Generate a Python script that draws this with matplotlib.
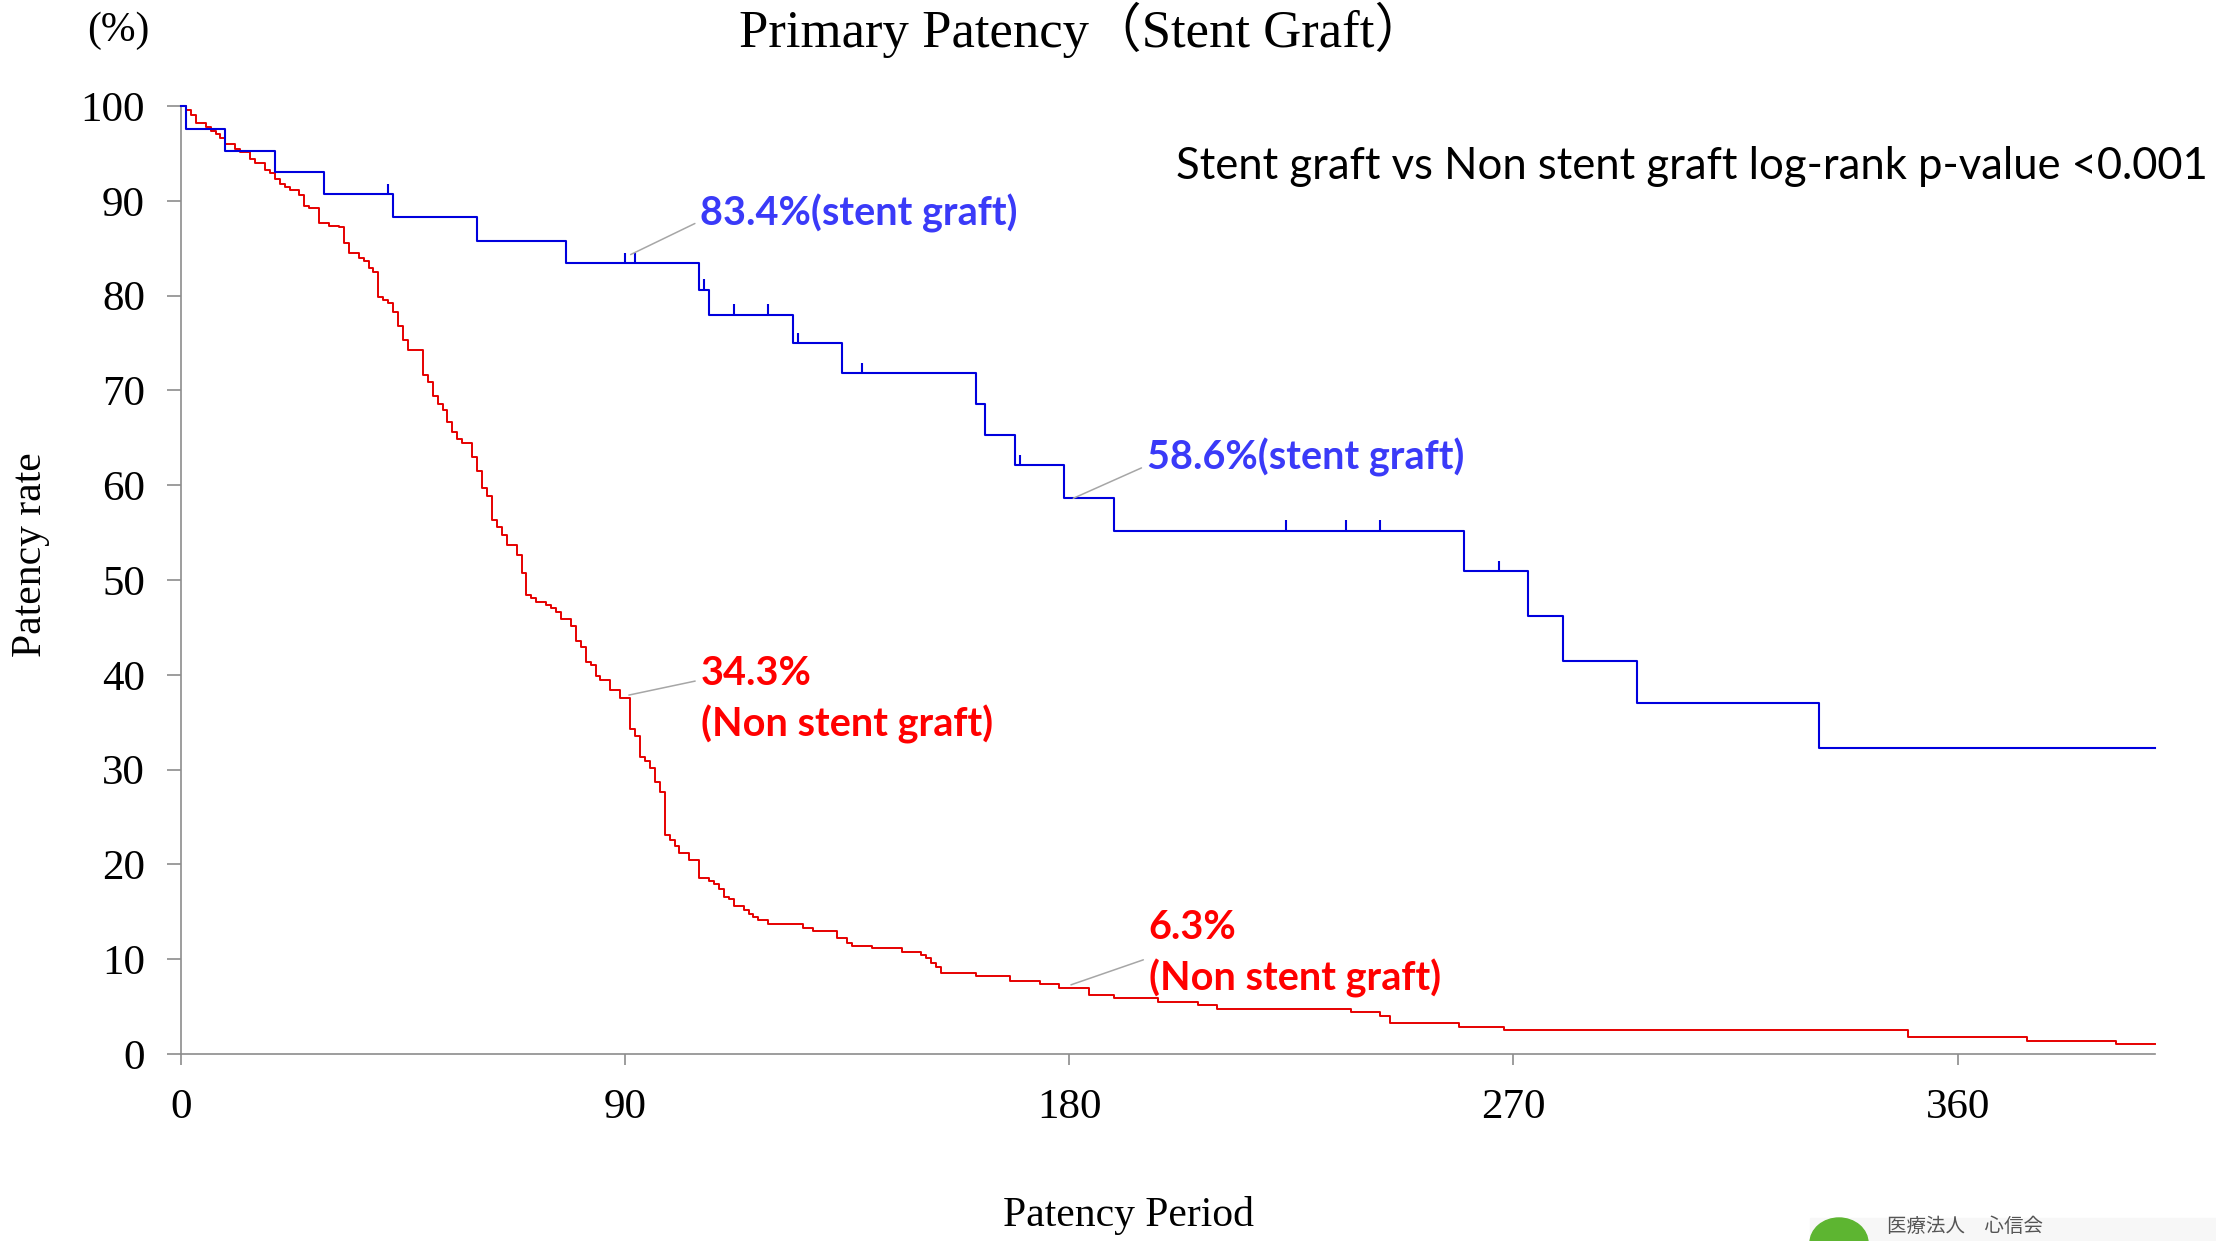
import numpy as np
import matplotlib.pyplot as plt
from matplotlib.patches import Ellipse, Rectangle

# Kaplan-Meier steps: day of event, patency (%) after it
stent_days = [0, 1, 9, 19, 29, 43, 60, 78, 105, 107, 124, 134, 161, 163, 169,
              179, 189, 260, 273, 280, 295, 332]
stent_pct = [100, 97.6, 95.3, 93.0, 90.7, 88.3, 85.8, 83.4, 80.6, 78.0, 75.0,
             71.8, 68.6, 65.3, 62.1, 58.6, 55.2, 50.9, 46.2, 41.5, 37.0, 32.3]
stent_censor = [42, 90, 92, 106, 112, 119, 125, 138, 170, 224, 236, 243, 267]

non_days = [0, 1, 2, 3, 5, 6, 7, 8, 9, 11, 12, 14, 15, 17, 18, 19, 20, 21, 22,
            24, 25, 26, 28, 30, 32, 33, 34, 36, 37, 38, 39, 40, 41, 42, 43, 44,
            45, 46, 49, 50, 51, 52, 53, 54, 55, 56, 57, 59, 60, 61, 62, 63, 64,
            65, 66, 68, 69, 70, 71, 72, 74, 75, 76, 77, 79, 80, 81, 82, 83, 84,
            85, 87, 89, 91, 92, 93, 94, 95, 96, 97, 98, 99, 100, 101, 103, 105,
            107, 108, 109, 110, 111, 112, 114, 115, 116, 117, 119, 126, 128,
            133, 135, 136, 140, 146, 150, 151, 152, 153, 154, 161, 168, 174,
            178, 184, 189, 198, 206, 210, 237, 243, 245, 259, 268, 350, 374, 392]
non_pct = [100, 99.6, 99.0, 98.2, 97.8, 97.4, 97.0, 96.6, 96.0, 95.5, 95.2,
           94.4, 94.0, 93.2, 92.9, 92.3, 91.8, 91.5, 91.1, 90.6, 89.5, 89.2,
           87.7, 87.3, 87.2, 85.5, 84.5, 84.0, 83.6, 82.9, 82.5, 79.9, 79.5,
           79.2, 78.3, 76.8, 75.3, 74.3, 71.6, 70.9, 69.4, 68.6, 67.9, 66.7,
           65.6, 64.9, 64.5, 63.0, 61.5, 59.7, 58.9, 56.3, 55.6, 54.7, 53.7,
           52.6, 50.7, 48.4, 48.1, 47.7, 47.4, 47.0, 46.6, 45.9, 45.1, 43.6,
           42.9, 41.4, 41.0, 39.9, 39.5, 38.4, 37.6, 34.3, 33.5, 31.3, 30.9,
           30.2, 28.7, 27.6, 23.1, 22.6, 21.9, 21.2, 20.5, 18.6, 18.2, 17.9,
           17.4, 16.6, 16.3, 15.6, 15.2, 14.8, 14.4, 14.1, 13.7, 13.3, 13.0,
           12.2, 11.7, 11.4, 11.2, 10.8, 10.4, 10.1, 9.6, 9.2, 8.5, 8.2, 7.7,
           7.35, 7.0, 6.2, 5.9, 5.5, 5.2, 4.7, 4.4, 4.0, 3.3, 2.9, 2.5, 1.8,
           1.4, 1.05]
follow_end = 400

x_ticks = [0, 90, 180, 270, 360]
y_ticks = list(range(0, 101, 10))

BLUE = '#0000DD'
RED = '#E60000'
BLUE_TXT = '#3A3AF8'
RED_TXT = '#FF0000'
GRAY = '#8C8C8C'
SERIF = ['Liberation Serif', 'Noto Sans CJK JP']
SANS = 'Lato'

fig = plt.figure(figsize=(22.16, 12.41), dpi=100)
ax = fig.add_axes([181 / 2216, 1 - 1054 / 1241, 1974 / 2216, 948 / 1241])


def km_line(days, pct):
    x = np.append(days, follow_end)
    y = np.append(pct, pct[-1])
    return x, y


x, y = km_line(stent_days, stent_pct)
ax.step(x, y, where='post', color=BLUE, lw=1.5, clip_on=False, zorder=3)
x, y = km_line(non_days, non_pct)
ax.step(x, y, where='post', color=RED, lw=1.4, clip_on=False, zorder=2)

# censor marks on the stent graft curve
idx = np.searchsorted(stent_days, stent_censor, side='right') - 1
cy = np.array(stent_pct)[idx]
ax.vlines(stent_censor, cy, cy + 1.1, color=BLUE, lw=1.5, zorder=3)

ax.set_xlim(0, follow_end)
ax.set_ylim(0, 100)
ax.set_xticks(x_ticks)
ax.set_yticks(y_ticks)
for s in ['top', 'right']:
    ax.spines[s].set_visible(False)
for s in ['left', 'bottom']:
    ax.spines[s].set_color(GRAY)
    ax.spines[s].set_linewidth(1.2)
ax.tick_params(axis='y', length=10, width=1.2, color=GRAY, pad=16)
ax.tick_params(axis='x', length=8, width=1.2, color=GRAY, pad=17)
for lab in ax.get_xticklabels() + ax.get_yticklabels():
    lab.set_family(SERIF)
    lab.set_fontsize(31)

ax.set_ylabel('Patency rate', family=SERIF, fontsize=30)
ax.yaxis.label.set_va('center')
ax.yaxis.set_label_coords(-0.076, 0.527)
ax.set_xlabel('Patency Period', family=SERIF, fontsize=30)
ax.xaxis.label.set_va('center')
ax.xaxis.set_label_coords(0.480, -0.170)

fig.text(118 / 2216, 1 - 31 / 1241, '(%)', family=SERIF, fontsize=30,
         ha='center', va='center')
fig.text(1083 / 2216, 1 - 30 / 1241, 'Primary Patency（Stent Graft）',
         family=SERIF, fontsize=38, ha='center', va='center')

ax.text(201.6, 93.6, 'Stent graft vs Non stent graft log-rank p-value <0.001',
        family=SANS, fontsize=31.4, va='center', ha='left')

pointer = dict(arrowstyle='-', color='#A6A6A6', lw=1.1)
lab_size = 28.5
ax.annotate('83.4%(stent graft)', xy=(90.6, 84.2), xytext=(105.2, 88.7),
            color=BLUE_TXT, family=SANS, fontweight='bold', fontsize=lab_size,
            va='center', ha='left', arrowprops=dict(pointer, relpos=(0, 0.3)))
ax.annotate('58.6%(stent graft)', xy=(180.3, 58.5), xytext=(195.7, 62.9),
            color=BLUE_TXT, family=SANS, fontweight='bold', fontsize=lab_size,
            va='center', ha='left', arrowprops=dict(pointer, relpos=(0, 0.3)))
ax.annotate('34.3%\n(Non stent graft)', xy=(90.2, 37.8), xytext=(105.3, 37.4),
            color=RED_TXT, family=SANS, fontweight='bold', fontsize=lab_size,
            va='center', ha='left', linespacing=1.4,
            arrowprops=dict(pointer, relpos=(0, 0.72)))
ax.annotate('6.3%\n(Non stent graft)', xy=(179.8, 7.2), xytext=(196.1, 10.6),
            color=RED_TXT, family=SANS, fontweight='bold', fontsize=lab_size,
            va='center', ha='left', linespacing=1.4,
            arrowprops=dict(pointer, relpos=(0, 0.45)))

# hospital logo strip at the bottom right
fig.patches.append(Rectangle((18.10, 0), 4.06, 0.23, transform=fig.dpi_scale_trans,
                             color='#F7F7F7', zorder=0))
fig.patches.append(Ellipse((18.39, -0.02), 0.58, 0.5, transform=fig.dpi_scale_trans,
                           color='#5DB531', zorder=1))
fig.text(1887 / 2216, 1 - 1227 / 1241, '医療法人　心信会', family='Noto Sans CJK JP',
         fontsize=14, color='#555555', ha='left', va='center')

fig.savefig('out.png', dpi=100)
